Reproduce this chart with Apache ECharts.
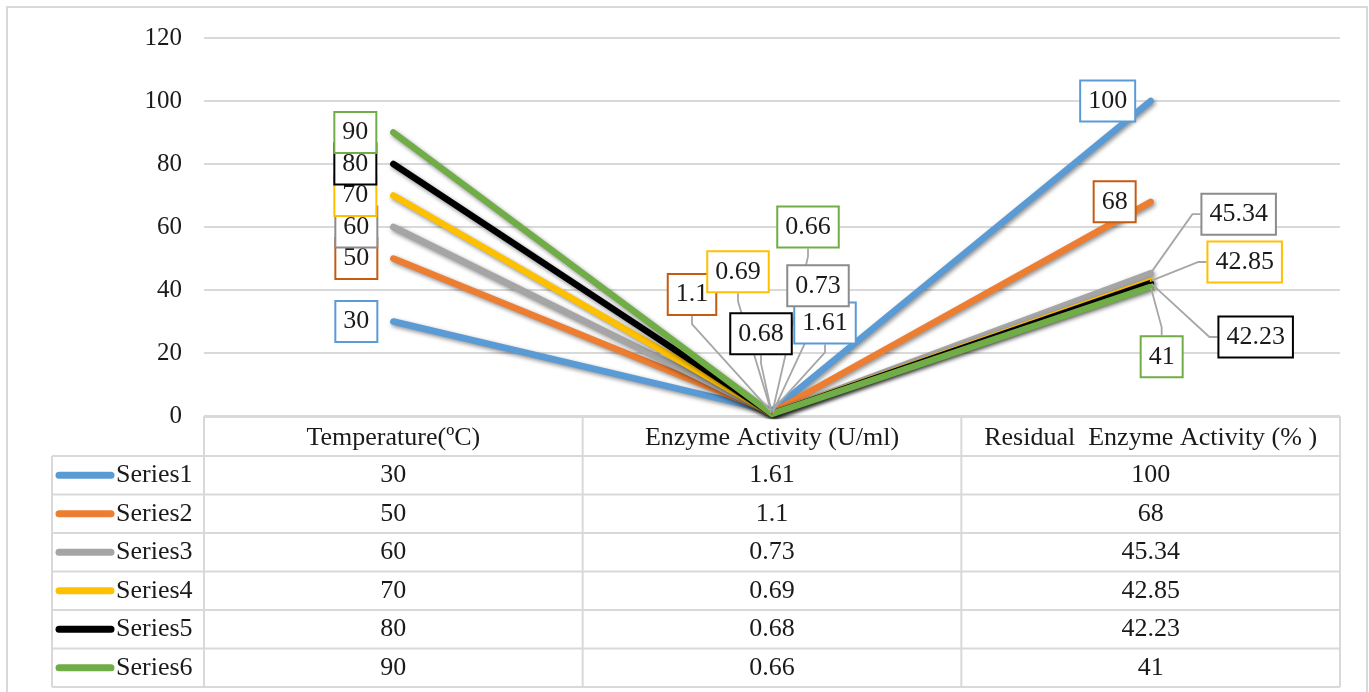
<!DOCTYPE html>
<html>
<head>
<meta charset="utf-8">
<script src="https://cdn.jsdelivr.net/npm/echarts@6/dist/echarts.min.js"></script>
<style>
html,body{margin:0;padding:0;background:#fff;}
#c{width:1369px;height:692px;}
</style>
</head>
<body>
<div id="c"></div>
<script>
const categories = ['Temperature(ºC)', 'Enzyme Activity (U/ml)', 'Residual  Enzyme Activity (% )'];
const seriesNames = ['Series1', 'Series2', 'Series3', 'Series4', 'Series5', 'Series6'];
const series1 = [30, 1.61, 100];
const series2 = [50, 1.1, 68];
const series3 = [60, 0.73, 45.34];
const series4 = [70, 0.69, 42.85];
const series5 = [80, 0.68, 42.23];
const series6 = [90, 0.66, 41];
const allSeries = [series1, series2, series3, series4, series5, series6];
const yMin = 0, yMax = 120, yStep = 20;

const lineColors = ['#5B9BD5', '#ED7D31', '#A5A5A5', '#FFC000', '#000000', '#70AD47'];
const boxColors = ['#5B9BD5', '#C55A11', '#8C8C8C', '#FFC000', '#000000', '#70AD47'];
// label offsets (dx, dy) from each point, and whether a leader line is drawn
const labelOffsets = [
  [[-37, 0], [53, -88], [-43, 0]],
  [[-37, 0], [-80, -118], [-36, 0]],
  [[-37, 0], [46, -128], [88, -59]],
  [[-38, 0], [-34, -142], [94, -19]],
  [[-38, 0], [-11, -80], [105, 54]],
  [[-38, 0], [36, -187], [11, 70]]
];
const leader = [
  [false, true, false],
  [false, true, false],
  [false, true, true],
  [false, true, true],
  [false, true, true],
  [false, true, true]
];

const FONT = "'Liberation Serif', 'Times New Roman', serif";
const chart = echarts.init(document.getElementById('c'), null, {renderer: 'canvas'});

const GRID = {left: 204, right: 29, top: 38, bottom: 276};

const option = {
  animation: false,
  backgroundColor: '#fff',
  grid: GRID,
  xAxis: {
    type: 'category',
    data: categories,
    boundaryGap: true,
    axisLine: {show: false},
    axisTick: {show: false},
    axisLabel: {fontFamily: FONT, fontSize: 26, color: '#1a1a1a', margin: 9, interval: 0}
  },
  yAxis: {
    type: 'value',
    min: yMin, max: yMax, interval: yStep,
    axisLine: {show: false},
    axisTick: {show: false},
    axisLabel: {fontFamily: FONT, fontSize: 25, color: '#1a1a1a', margin: 22},
    splitLine: {lineStyle: {color: '#d9d9d9', width: 2}}
  },
  series: allSeries.map((vals, si) => ({
    type: 'line',
    name: seriesNames[si],
    data: vals.map((v, di) => ({
      value: v,
      labelLine: {show: leader[si][di]}
    })),
    symbol: 'circle',
    symbolSize: 2,
    showSymbol: true,
    itemStyle: {color: lineColors[si]},
    lineStyle: {
      color: lineColors[si], width: 6.5, cap: 'round', join: 'round',
      shadowColor: 'rgba(0,0,0,0.45)', shadowBlur: 4, shadowOffsetX: 1.5, shadowOffsetY: 2
    },
    label: {
      show: true,
      position: 'inside',
      formatter: '{c}',
      fontFamily: FONT,
      fontSize: 26,
      color: '#1a1a1a',
      backgroundColor: '#ffffff',
      borderColor: boxColors[si],
      borderWidth: 2,
      padding: [7, 7, 6, 7]
    },
    labelLine: {
      show: false,
      length2: 8,
      lineStyle: {color: '#A6A6A6', width: 1.8}
    },
    labelLayout: function (p) {
      const o = labelOffsets[si][p.dataIndex];
      return {dx: o[0], dy: o[1]};
    },
    emphasis: {disabled: true}
  }))
};
chart.setOption(option);

// ---- data table drawn below the plot ----
function buildTable() {
  const g = [];
  const lineStyle = {stroke: '#d9d9d9', lineWidth: 2};
  const band = chart.convertToPixel({xAxisIndex: 0}, 1) - chart.convertToPixel({xAxisIndex: 0}, 0);
  const colCenters = categories.map((c, i) => chart.convertToPixel({xAxisIndex: 0}, i));
  const colEdges = [colCenters[0] - band / 2].concat(colCenters.map(c => c + band / 2));
  const headTop = chart.convertToPixel({yAxisIndex: 0}, 0);
  const headBottom = headTop + 40;
  const rowH = 38.5;
  const tableLeft = 52;
  const tableBottom = headBottom + rowH * seriesNames.length;

  g.push({type: 'line', shape: {x1: colEdges[0], y1: headTop + 1, x2: colEdges[3], y2: headTop + 1}, style: lineStyle, silent: true});
  for (let r = 0; r <= seriesNames.length; r++) {
    const y = headBottom + r * rowH;
    g.push({type: 'line', shape: {x1: tableLeft, y1: y, x2: colEdges[3], y2: y}, style: lineStyle, silent: true});
  }
  g.push({type: 'line', shape: {x1: tableLeft, y1: headBottom, x2: tableLeft, y2: tableBottom}, style: lineStyle, silent: true});
  colEdges.forEach(x => {
    g.push({type: 'line', shape: {x1: x, y1: headTop, x2: x, y2: tableBottom}, style: lineStyle, silent: true});
  });
  seriesNames.forEach((name, si) => {
    const cy = headBottom + rowH * (si + 0.5);
    g.push({type: 'line', shape: {x1: 59, y1: cy, x2: 111, y2: cy},
      style: {stroke: lineColors[si], lineWidth: 7, lineCap: 'round'}, silent: true});
    g.push({type: 'text', x: 116, y: cy,
      style: {text: name, font: '26px ' + FONT, fill: '#1a1a1a', textAlign: 'left', textVerticalAlign: 'middle'}, silent: true});
    allSeries[si].forEach((v, di) => {
      g.push({type: 'text', x: colCenters[di], y: cy,
        style: {text: String(v), font: '26px ' + FONT, fill: '#1a1a1a', textAlign: 'center', textVerticalAlign: 'middle'}, silent: true});
    });
  });
  g.push({type: 'rect', shape: {x: 7, y: 7, width: 1360, height: 700},
    style: {fill: 'none', stroke: '#d9d9d9', lineWidth: 2}, silent: true, z: -1});
  chart.setOption({graphic: {elements: g}});
}
buildTable();
</script>
</body>
</html>
